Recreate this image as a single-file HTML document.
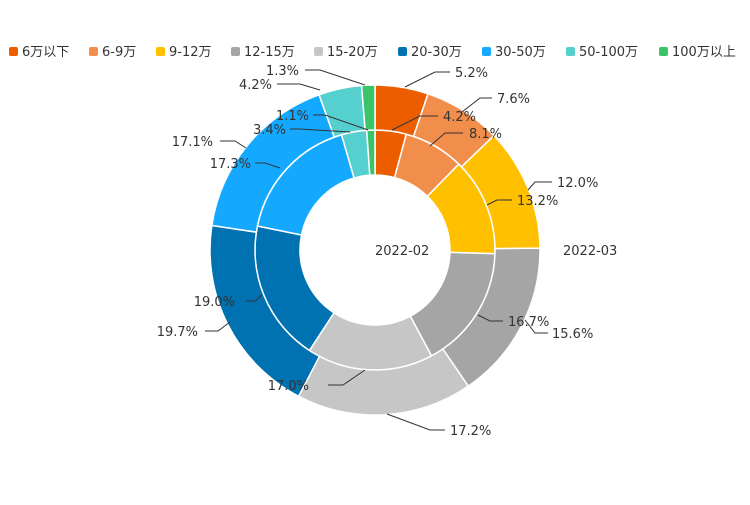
<!DOCTYPE html>
<html><head><meta charset="utf-8"><style>
body{margin:0;background:#fff;}
svg text{font-family:"DejaVu Sans","Noto Sans CJK SC",sans-serif;font-size:13px;fill:#333;}
text.e{text-anchor:end;}
</style></head><body>
<svg id="s" width="750" height="500" xmlns="http://www.w3.org/2000/svg">
<g id="rings"></g>
<g fill="none" stroke="#333" stroke-width="1">
<polyline points="405,87 435,72 450,72"/>
<polyline points="462,112 480,98 492,98"/>
<polyline points="528,190 535,182 552,182"/>
<polyline points="525,320 535,333 548,333"/>
<polyline points="387,414 430,430 445,430"/>
<polyline points="205,331 218,331 230,322"/>
<polyline points="220,141 235,141 246,148"/>
<polyline points="277,84 300,84 320,90"/>
<polyline points="305,70 320,70 365,85"/>
<polyline points="392,130 420,116 438,116"/>
<polyline points="430,146 445,133 463,133"/>
<polyline points="487,205 497,200 512,200"/>
<polyline points="478,315 490,321 503,321"/>
<polyline points="328,385 343,385 365,370"/>
<polyline points="246,301 255,301 262,295"/>
<polyline points="255,163 265,163 280,168"/>
<polyline points="290,129 300,129 350,132"/>
<polyline points="313,115 325,115 368,130"/>
</g>
<text x="455" y="77">5.2%</text>
<text x="497" y="103">7.6%</text>
<text x="557" y="187">12.0%</text>
<text x="552" y="338">15.6%</text>
<text x="450" y="435">17.2%</text>
<text class="e" x="198" y="336">19.7%</text>
<text class="e" x="213" y="146">17.1%</text>
<text class="e" x="272" y="89">4.2%</text>
<text class="e" x="299" y="75">1.3%</text>
<text x="443" y="121">4.2%</text>
<text x="469" y="138">8.1%</text>
<text x="517" y="205">13.2%</text>
<text x="508" y="326">16.7%</text>
<text class="e" x="309" y="390">17.0%</text>
<text class="e" x="235" y="306">19.0%</text>
<text class="e" x="251" y="168">17.3%</text>
<text class="e" x="286" y="134">3.4%</text>
<text class="e" x="309" y="120">1.1%</text>
<text x="375" y="255">2022-02</text>
<text x="563" y="255">2022-03</text>
<g id="legend"></g>
</svg>
<script>
var cols=["#ec5d00","#f28e4b","#ffc000","#a5a5a5","#c6c6c6","#0071b1","#14a9ff","#55d0cf","#3ac46a"];
var names=["6万以下","6-9万","9-12万","12-15万","15-20万","20-30万","30-50万","50-100万","100万以上"];
var inner=[4.2,8.1,13.2,16.7,17.0,19.0,17.3,3.4,1.1];
var outer=[5.2,7.6,12.0,15.6,17.2,19.7,17.1,4.2,1.3];
var cx=375,cy=250,ns="http://www.w3.org/2000/svg",g=document.getElementById("rings");
function pt(r,a){return [cx+r*Math.sin(a),cy-r*Math.cos(a)];}
function ring(d,r0,r1){var t=d.reduce((a,b)=>a+b,0),a=0;
d.forEach(function(v,i){var b=a+v/t*2*Math.PI,l=(b-a)>Math.PI?1:0;
var p1=pt(r1,a),p2=pt(r1,b),p3=pt(r0,b),p4=pt(r0,a);
var p=document.createElementNS(ns,"path");
p.setAttribute("d","M"+p1+"A"+r1+","+r1+" 0 "+l+" 1 "+p2+"L"+p3+"A"+r0+","+r0+" 0 "+l+" 0 "+p4+"Z");
p.setAttribute("fill",cols[i]);p.setAttribute("stroke","#fff");p.setAttribute("stroke-width","1.5");
g.appendChild(p);a=b;});}
ring(inner,75,120);ring(outer,120,165);
var lx=[9,89,156,231,314,398,482,566,659],lg=document.getElementById("legend");
names.forEach(function(n,i){var r=document.createElementNS(ns,"rect");
r.setAttribute("x",lx[i]);r.setAttribute("y",47);r.setAttribute("width",9);r.setAttribute("height",9);r.setAttribute("rx",2);r.setAttribute("fill",cols[i]);lg.appendChild(r);
var t=document.createElementNS(ns,"text");t.setAttribute("x",lx[i]+13);t.setAttribute("y",56);t.textContent=n;lg.appendChild(t);});
</script>
</body></html>
